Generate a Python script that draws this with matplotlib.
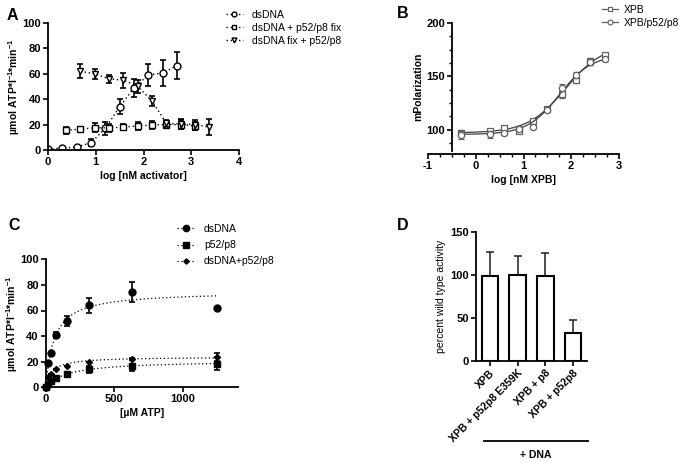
import matplotlib
matplotlib.use("Agg")
import matplotlib.pyplot as plt
import numpy as np
from matplotlib.ticker import MultipleLocator

plt.rcParams["font.family"] = ["Liberation Sans", "DejaVu Sans"]
plt.rcParams["mathtext.fontset"] = "custom"
plt.rcParams["mathtext.rm"] = "Liberation Sans"
plt.rcParams["mathtext.bf"] = "Liberation Sans:bold"
plt.rcParams["axes.linewidth"] = 1.3
plt.rcParams["axes.unicode_minus"] = False

# ---- panel A: ATPase vs activator ----
a_dsdna_x = [0.0, 0.3, 0.6, 0.9, 1.2, 1.5, 1.8, 2.1, 2.4, 2.7]
a_dsdna_y = [0.8, 1.5, 2.3, 5.8, 17, 34, 49, 59, 60.7, 66.5]
a_dsdna_err = [0, 0, 0, 3, 5, 6, 7, 8.6, 10, 10.6]

a_fix_x = [0.38, 0.68, 0.98, 1.28, 1.58, 1.88, 2.18, 2.48, 2.78, 3.08]
a_fix_y = [15.5, 16.5, 17.5, 17.5, 18, 19, 19.6, 20, 20, 19]
a_fix_err = [3, 1.5, 3.5, 3, 2.5, 3, 3, 2.5, 3.5, 3]

a_tri_x = [0.68, 0.98, 1.28, 1.58, 1.88, 2.18, 2.48, 2.78, 3.08, 3.38]
a_tri_y = [62, 60, 56, 55, 50, 38.5, 21, 20.5, 20, 18]
a_tri_err = [5.5, 4, 3, 6, 5, 4, 3, 4, 4, 6.5]

a_labels = ["dsDNA", "dsDNA + p52/p8 fix", "dsDNA fix + p52/p8"]

# ---- panel B: polarization ----
b_x = [-0.3, 0.3, 0.6, 0.9, 1.2, 1.5, 1.8, 2.1, 2.4, 2.7]
b_xpb = [97, 99, 101.5, 98.5, 108, 119.5, 133, 147, 164, 170]
b_xpb_err = [3, 2, 2, 2, 1.5, 2, 3, 3, 3, 2]
b_cplx = [95, 95.5, 97, 101, 102.5, 118.5, 139.5, 151.5, 163, 166]
b_cplx_err = [4, 3, 2, 2, 1.5, 2, 3, 3, 2, 2]
# four-parameter logistic fits: bottom, top, logEC50, hill
b_xpb_fit = (97, 180, 1.88, 1.1)
b_cplx_fit = (95.5, 170, 1.75, 1.3)
b_labels = ["XPB", "XPB/p52/p8"]

# ---- panel C: Michaelis-Menten ----
c_atp = [0, 19.5, 39, 78, 156, 312.5, 625, 1250]
c_dsdna = [0, 19, 27, 41, 52, 64, 74.5, 62]
c_dsdna_err = [0, 0, 0, 2.5, 4, 6, 7.5, 0]
c_p52 = [0, 2.5, 5, 7.5, 10.5, 14, 17, 18.5]
c_p52_err = [0, 0, 0, 1, 1.5, 2.5, 4, 5]
c_both = [0, 8, 10.5, 14, 17, 20, 22, 23.5]
c_both_err = [0, 0, 0, 0, 0, 0, 1, 3]
# fits: Vmax, Km
c_dsdna_fit = (75, 62)
c_p52_fit = (21, 160)
c_both_fit = (23.8, 45)
c_labels = ["dsDNA", "p52/p8", "dsDNA+p52/p8"]

# ---- panel D: bars ----
d_names = ["XPB", "XPB + p52p8 E359K", "XPB + p8", "XPB + p52p8"]
d_vals = [99.3, 100, 98.5, 32.5]
d_err = [27.3, 22.5, 27.3, 14.5]

TICK_FS = 8
LABEL_FS = 7.5
LEG_FS = 7.5
YLAB_ATP = r"µmol ATP*l$^{\mathbf{-1}}$*min$^{\mathbf{-1}}$"


def style_axis(ax):
    ax.spines["top"].set_visible(False)
    ax.spines["right"].set_visible(False)
    ax.tick_params(which="major", length=3.5, width=1.2, labelsize=TICK_FS, pad=1.5)
    ax.tick_params(which="minor", length=2.5, width=1.0)
    for lab in ax.get_xticklabels() + ax.get_yticklabels():
        lab.set_fontweight("bold")


fig = plt.figure(figsize=(6.85, 4.62), dpi=100)
W, H = 685.0, 462.0


def px_axes(left, top, right, bottom):
    return fig.add_axes([left / W, 1 - bottom / H, (right - left) / W, (bottom - top) / H])


# Panel A
axA = px_axes(48, 23, 239, 150)
ekw = dict(ecolor="black", elinewidth=1.2, capsize=2.5, capthick=1.2)
hA = []
for x, y, e, m in [(a_dsdna_x, a_dsdna_y, a_dsdna_err, "o"),
                   (a_fix_x, a_fix_y, a_fix_err, "s"),
                   (a_tri_x, a_tri_y, a_tri_err, "v")]:
    axA.errorbar(x, y, yerr=e, fmt="none", **ekw)
    (h,) = axA.plot(x, y, linestyle=(0, (1, 2)), color="black", linewidth=1.0,
                    marker=m, markersize=5, markerfacecolor="white",
                    markeredgecolor="black", markeredgewidth=1.0)
    hA.append(h)
axA.set_xlim(0, 4)
axA.set_ylim(0, 100)
axA.set_xticks([0, 1, 2, 3, 4])
axA.set_yticks([0, 20, 40, 60, 80, 100])
axA.set_xlabel("log [nM activator]", fontsize=LABEL_FS, fontweight="bold", labelpad=3)
axA.set_ylabel(YLAB_ATP, fontsize=LABEL_FS, fontweight="bold", labelpad=0)
style_axis(axA)
fig.legend(hA, a_labels, loc="upper left", bbox_to_anchor=(226 / W, 1 - 10 / H),
           frameon=False, fontsize=LEG_FS, handlelength=1.6, handletextpad=0.9,
           labelspacing=0.28, borderpad=0, borderaxespad=0, markerscale=0.7)

# Panel B
axB = px_axes(428, 23, 619, 151)
gray = "#606060"
xs = np.linspace(min(b_x), max(b_x), 200)
hB = []
for y, e, fit, m in [(b_xpb, b_xpb_err, b_xpb_fit, "s"), (b_cplx, b_cplx_err, b_cplx_fit, "o")]:
    bot, top, ec50, hill = fit
    axB.plot(xs, bot + (top - bot) / (1 + 10 ** ((ec50 - xs) * hill)), color="#404040", linewidth=0.9)
    axB.errorbar(b_x, y, yerr=e, fmt="none", ecolor=gray, elinewidth=0.9, capsize=2, capthick=0.9)
    axB.plot(b_x, y, linestyle="none", marker=m, markersize=4.5, markerfacecolor="white",
             markeredgecolor=gray, markeredgewidth=0.9)
    (h,) = axB.plot([], [], color=gray, linewidth=0.9, marker=m, markersize=3.5,
                    markerfacecolor="white", markeredgecolor=gray, markeredgewidth=0.8)
    hB.append(h)
axB.set_xlim(-1, 3)
axB.set_ylim(80, 200)
axB.spines["left"].set_position(("data", -0.5))
axB.spines["bottom"].set_position(("outward", 2))
axB.set_xticks([-1, 0, 1, 2, 3])
axB.xaxis.set_minor_locator(MultipleLocator(0.25))
axB.set_yticks([100, 150, 200])
axB.yaxis.set_minor_locator(MultipleLocator(12.5))
axB.set_xlabel("log [nM XPB]", fontsize=LABEL_FS, fontweight="bold", labelpad=3)
axB.set_ylabel("mPolarization", fontsize=LABEL_FS, fontweight="bold", labelpad=2)
style_axis(axB)
fig.legend(hB, b_labels, loc="upper left", bbox_to_anchor=(602 / W, 1 - 5 / H),
           frameon=False, fontsize=LEG_FS, handlelength=1.5, handletextpad=0.6,
           labelspacing=0.25, borderpad=0, borderaxespad=0)

# Panel C
axC = px_axes(45.7, 259.3, 238, 387.3)
xs = np.linspace(0, max(c_atp), 300)
hC = []
for y, e, fit, m, ms in [(c_dsdna, c_dsdna_err, c_dsdna_fit, "o", 5),
                         (c_p52, c_p52_err, c_p52_fit, "s", 5),
                         (c_both, c_both_err, c_both_fit, "D", 3)]:
    vmax, km = fit
    axC.plot(xs, vmax * xs / (km + xs), linestyle=(0, (1, 2)), color="black", linewidth=0.9)
    axC.errorbar(c_atp, y, yerr=e, fmt="none", **ekw)
    axC.plot(c_atp, y, linestyle="none", marker=m, markersize=ms, color="black", clip_on=False)
    (h,) = axC.plot([], [], linestyle=(0, (1, 2)), color="black", linewidth=0.9,
                    marker=m, markersize=ms * 0.9)
    hC.append(h)
axC.set_xlim(0, 1400)
axC.set_ylim(0, 100)
axC.set_xticks([0, 500, 1000])
axC.set_yticks([0, 20, 40, 60, 80, 100])
axC.set_xlabel("[µM ATP]", fontsize=LABEL_FS, fontweight="bold", labelpad=3)
axC.set_ylabel(YLAB_ATP, fontsize=LABEL_FS, fontweight="bold", labelpad=0)
style_axis(axC)
fig.legend(hC, c_labels, loc="upper left", bbox_to_anchor=(177 / W, 1 - 224 / H),
           frameon=False, fontsize=LEG_FS, handlelength=1.7, handletextpad=0.9,
           labelspacing=0.6, borderpad=0, borderaxespad=0)

# Panel D
axD = px_axes(476, 232.3, 587, 360.7)
pos = np.arange(len(d_names))
axD.bar(pos, d_vals, width=0.6, color="white", edgecolor="black", linewidth=1.5, zorder=2)
axD.errorbar(pos, d_vals, yerr=[np.zeros(len(d_err)), d_err], fmt="none",
             ecolor="#303030", elinewidth=1.2, capsize=3, capthick=1.2, zorder=1)
axD.set_xlim(-0.5, 3.5)
axD.set_ylim(0, 150)
axD.set_yticks([0, 50, 100, 150])
axD.set_xticks(pos)
axD.set_xticklabels(d_names, rotation=45, ha="right", rotation_mode="anchor")
axD.set_ylabel("percent wild type activity", fontsize=LABEL_FS, labelpad=3)
style_axis(axD)
axD.tick_params(axis="x", labelsize=7.5)
fig.add_artist(plt.Line2D([484 / W, 588 / W], [1 - 441 / H, 1 - 441 / H], color="black", linewidth=1.3))
fig.text(536 / W, 1 - 455 / H, "+ DNA", ha="center", va="center", fontsize=LABEL_FS, fontweight="bold")

# panel letters
for letter, x, y in [("A", 7, 15), ("B", 397, 14), ("C", 8, 225), ("D", 397, 225)]:
    fig.text(x / W, 1 - y / H, letter, ha="left", va="center", fontsize=11.5, fontweight="bold")

fig.savefig("out.png", dpi=100)
